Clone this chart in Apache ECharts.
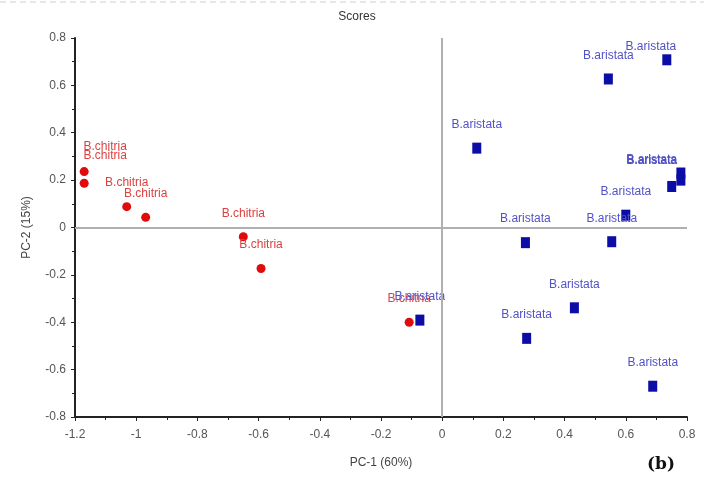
<!DOCTYPE html>
<html>
<head>
<meta charset="utf-8">
<script src="https://cdn.jsdelivr.net/npm/echarts@6/dist/echarts.min.js"></script>
<style>html,body{margin:0;padding:0;background:#fff}#c{width:704px;height:489px}</style>
</head>
<body>
<div id="c"></div>
<script>
// ---- data ----
const chitriaName = "B.chitria";
const chitriaX = [-1.17, -1.17, -1.031, -0.969, -0.650, -0.592, -0.108];
const chitriaY = [0.236, 0.187, 0.088, 0.043, -0.039, -0.173, -0.400];
const aristataName = "B.aristata";
const aristataX = [0.734, 0.543, 0.113, 0.780, 0.780, 0.750, 0.600, 0.554, 0.272, -0.073, 0.432, 0.276, 0.688];
const aristataY = [0.708, 0.627, 0.335, 0.230, 0.200, 0.173, 0.052, -0.060, -0.064, -0.391, -0.339, -0.468, -0.670];
const xTicks = {min: -1.2, max: 0.8, step: 0.2};
const yTicks = {min: -0.8, max: 0.8, step: 0.2};
const titleText = "Scores";
const xName = "PC-1 (60%)";
const yName = "PC-2 (15%)";
const panelTag = "(b)";

// label nudges (style only) for labels that were pushed inside the frame
const chitriaLabelShift = {0: [21, -1], 1: [21, -4]};
const aristataLabelShift = {0: [-16, 10], 3: [-29, 11], 4: [-29, 4], 5: [-20, -3]};

function build(xs, ys, shift) {
  return xs.map((x, i) => {
    const d = {value: [x, ys[i]]};
    if (shift[i]) d.label = {offset: shift[i]};
    return d;
  });
}

const font = "'Liberation Sans Narrow', 'Liberation Sans', Arial, sans-serif";
const chart = echarts.init(document.getElementById('c'), null, {renderer: 'canvas'});
chart.setOption({
  animation: false,
  backgroundColor: '#ffffff',
  title: {
    text: titleText, left: 352, top: 6, textAlign: 'center',
    textStyle: {fontSize: 12, fontWeight: 'normal', color: '#333', fontFamily: font}
  },
  grid: {left: 75, right: 17, top: 38, bottom: 72, containLabel: false},
  xAxis: {
    type: 'value', min: xTicks.min, max: xTicks.max, interval: xTicks.step,
    name: xName, nameLocation: 'middle', nameGap: 40,
    nameTextStyle: {fontSize: 12, color: '#444', fontFamily: font},
    axisLine: {show: true, onZero: false, lineStyle: {color: '#222', width: 2}},
    axisTick: {show: true, inside: false, length: 4, lineStyle: {color: '#222'}},
    minorTick: {show: true, splitNumber: 2, length: 3, lineStyle: {color: '#222'}},
    axisLabel: {fontSize: 12, color: '#555', margin: 12, fontFamily: font},
    splitLine: {show: false}
  },
  yAxis: {
    type: 'value', min: yTicks.min, max: yTicks.max, interval: yTicks.step,
    name: yName, nameLocation: 'middle', nameGap: 42, nameRotate: 90,
    nameTextStyle: {fontSize: 12, color: '#444', fontFamily: font},
    axisLine: {show: true, onZero: false, lineStyle: {color: '#222', width: 2}},
    axisTick: {show: true, inside: false, length: 4, lineStyle: {color: '#222'}},
    minorTick: {show: true, splitNumber: 2, length: 3, lineStyle: {color: '#222'}},
    axisLabel: {fontSize: 12, color: '#555', margin: 9, fontFamily: font},
    splitLine: {show: false}
  },
  series: [
    {
      name: chitriaName, type: 'scatter', symbol: 'circle', symbolSize: 9,
      itemStyle: {color: '#e00c0c', opacity: 1},
      label: {show: true, position: 'top', distance: 13, formatter: chitriaName,
        fontSize: 12, color: '#dc4040', fontFamily: font},
      data: build(chitriaX, chitriaY, chitriaLabelShift),
      z: 3,
      markLine: {
        silent: true, symbol: 'none', animation: false,
        label: {show: false},
        lineStyle: {color: '#b0b0b0', width: 2, type: 'solid'},
        data: [{xAxis: 0}, {yAxis: 0}]
      }
    },
    {
      name: aristataName, type: 'scatter', symbol: 'rect', symbolSize: [9, 11],
      itemStyle: {color: '#0c0ca6', opacity: 1},
      label: {show: true, position: 'top', distance: 12, formatter: aristataName,
        fontSize: 12, color: '#5252c6', fontFamily: font},
      data: build(aristataX, aristataY, aristataLabelShift),
      z: 4
    }
  ],
  graphic: [
    {type: 'line', shape: {x1: 0, y1: 2, x2: 704, y2: 2},
      style: {stroke: '#cfcfcf', lineWidth: 1, lineDash: [6, 4]}},
    {type: 'text', left: 647, top: 456,
      style: {text: panelTag, fontSize: 17, fontWeight: 'bold',
        fontFamily: "'DejaVu Serif', 'Liberation Serif', serif", fill: '#111'}}
  ]
});
</script>
</body>
</html>
